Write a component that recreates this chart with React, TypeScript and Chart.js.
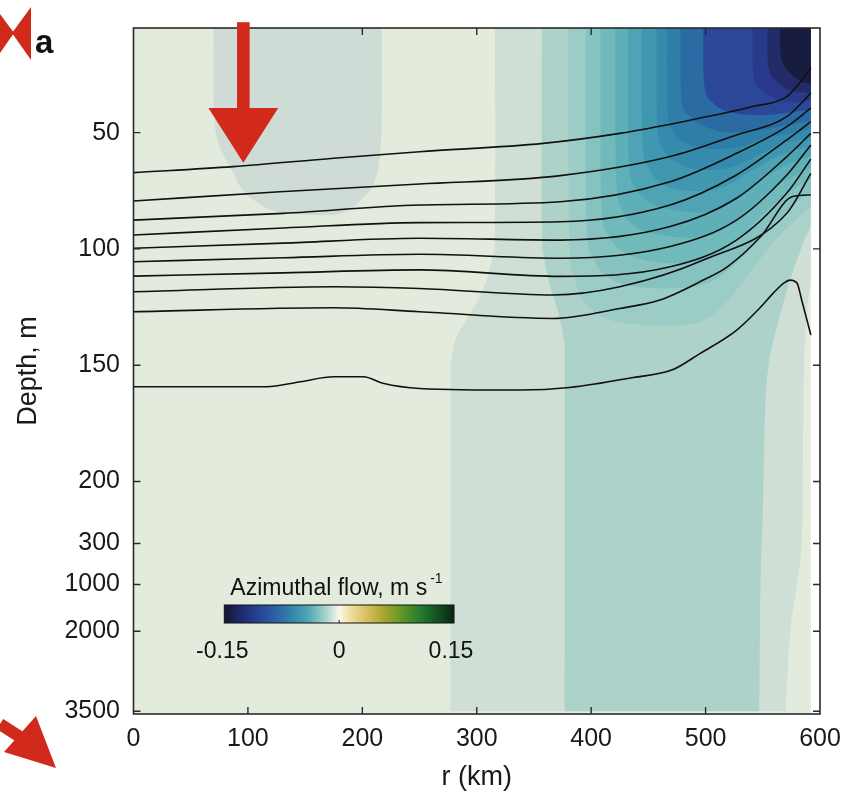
import React, { useEffect, useRef } from 'react';
import { Chart, registerables } from 'chart.js';

Chart.register(...registerables);

const FONT = "'Liberation Sans', Arial, Helvetica, sans-serif";

// ---- axes ----
const xTickValues = [0, 100, 200, 300, 400, 500, 600];
const depthTicks = [50, 100, 150, 200, 300, 1000, 2000, 3500];
const depthTickLabels = ['50', '100', '150', '200', '300', '1000', '2000', '3500'];
// broken depth axis: depth -> axis units (linear to 200 m, compressed below)
const depthBreaks = [200, 300, 1000, 2000, 3500];
const depthBreakAxis = [200, 226.7, 244.3, 264.4, 298.8];

const R_MAX = 592; // last model radius (km)
const D_TOP = 5;

function toAxis(d: number): number {
  if (d <= depthBreaks[0]) return d;
  for (let i = 1; i < depthBreaks.length; i++) {
    if (d <= depthBreaks[i] || i === depthBreaks.length - 1) {
      const t = (d - depthBreaks[i - 1]) / (depthBreaks[i] - depthBreaks[i - 1]);
      return depthBreakAxis[i - 1] + t * (depthBreakAxis[i] - depthBreakAxis[i - 1]);
    }
  }
  return d;
}

// ---- density contour lines (r km, depth m) ----
const lineR1 = [0, 87, 175, 250, 358, 425, 480, 541, 571, 582, 592];
const lineD1 = [67.2, 64.6, 61, 58.2, 54.6, 50.3, 45.3, 38.8, 34.5, 28.7, 22.3];
const lineR2 = [0, 128, 250, 373, 469, 527, 571, 592];
const lineD2 = [79.4, 75.4, 72.1, 68.5, 60.3, 51, 43.1, 33];
const lineR3 = [0, 131, 250, 373, 469, 527, 571, 592];
const lineD3 = [87.6, 84.7, 81.1, 79.7, 71.1, 58.9, 47.4, 39.5];
const lineR4 = [0, 131, 250, 373, 469, 527, 571, 592];
const lineD4 = [94, 91, 88.7, 88.3, 81.1, 68.2, 53.1, 45.3];
const lineR5 = [0, 131, 250, 373, 469, 527, 571, 592];
const lineD5 = [99.7, 97.5, 95.4, 96.2, 90.4, 78.2, 60.3, 50.3];
const lineR6 = [0, 131, 250, 373, 469, 527, 571, 592];
const lineD6 = [105.5, 103.8, 102.3, 104, 99, 87.6, 68.2, 55.3];
const lineR7 = [0, 131, 250, 373, 469, 527, 571, 592];
const lineD7 = [111.7, 110.3, 109, 111.8, 107.7, 96.2, 76, 61.4];
const lineR8 = [0, 175, 250, 367, 425, 498, 571, 592];
const lineD8 = [118.4, 116.3, 117, 119.8, 116.3, 104.8, 84.7, 67.5];
const lineR9 = [0, 175, 250, 367, 425, 460, 498, 519, 548, 576, 592];
const lineD9 = [127, 125.3, 127, 129.9, 125.6, 122, 113.4, 107.7, 94.8, 77.5, 76.8];
const lineR10 = [0, 87, 116, 146, 175, 201, 218, 250, 338, 381, 437, 471, 495, 527, 547, 559, 568, 574, 580, 584, 592];
const lineD10 = [159.3, 159.3, 159.3, 157.1, 155, 155, 157.8, 160, 160.7, 159.6, 155.3, 152, 145, 135, 125.6, 119.1, 114.8, 113.4, 114.8, 122, 137];

const contourR = [lineR1, lineR2, lineR3, lineR4, lineR5, lineR6, lineR7, lineR8, lineR9, lineR10];
const contourD = [lineD1, lineD2, lineD3, lineD4, lineD5, lineD6, lineD7, lineD8, lineD9, lineD10];

// ---- azimuthal-flow filled contour boundaries ([r km, depth m]) ----
const columnEdge = [[70, 5], [70, 35], [72, 50], [77, 58], [87, 67], [93, 73], [105, 79], [125, 84], [160, 85.5], [180, 85], [192, 82], [203, 77], [210, 72], [215, 62], [217, 45], [217, 5]];
const bandAWest = [[316, 5], [316, 90], [313, 105], [305, 118], [293, 129], [282, 138], [278, 148], [277, 165], [277, 3500]];
const bandAEast = [[570, 3500], [574, 2000], [580, 1000], [584, 300], [585, 200], [586, 150], [589, 125], [592, 115]];
const bandBWest = [[357, 5], [357, 90], [359, 104], [364, 116], [371, 127], [376, 139], [377, 155], [377, 3500]];
const bandBEast = [[547, 3500], [548, 1000], [550, 250], [552, 170], [555, 150], [560, 138], [567, 125], [576, 110], [585, 98], [592, 90]];
const lobeC = [[380, 5], [381, 95], [386, 114], [398, 125], [420, 131], [457, 133], [490, 132], [510, 127], [525, 119], [545, 106], [565, 94], [580, 87], [592, 82]];
const lobeD = [[395, 5], [396, 88], [402, 104], [414, 112], [435, 116], [470, 117], [500, 115], [525, 107], [548, 95], [568, 85], [582, 79], [592, 76]];
const lobeE = [[408, 5], [409, 80], [415, 94], [427, 101], [448, 105], [480, 106], [508, 103], [532, 94], [555, 83], [575, 75], [592, 70]];
const lobeF = [[421, 5], [422, 70], [428, 84], [440, 91], [460, 94], [492, 95], [517, 91], [540, 82], [562, 73], [580, 68], [592, 65]];
const lobeG = [[432, 5], [433, 62], [439, 74], [451, 80], [470, 83], [503, 84], [527, 79], [550, 70], [570, 64], [592, 60]];
const lobeH = [[444, 5], [445, 55], [451, 66], [462, 72], [480, 75], [512, 74], [535, 68], [556, 62], [575, 58], [592, 56]];
const lobeI = [[457, 5], [458, 48], [464, 58], [475, 63], [495, 66], [522, 65], [545, 60], [566, 55], [592, 52]];
const lobeJ = [[466, 5], [467, 42], [473, 50], [485, 55], [505, 57], [532, 56], [555, 52], [575, 50], [592, 48.5]];
const lobeK = [[478, 5], [479, 36], [486, 43], [498, 47], [518, 50], [545, 49], [568, 47], [592, 45]];
const lobeL = [[498, 5], [499, 30], [506, 37], [520, 41], [545, 42.5], [570, 41.5], [592, 40]];
const lobeM = [[541, 5], [542, 26], [549, 32], [562, 35.5], [580, 37], [592, 36]];
const lobeN = [[554, 5], [555, 22], [562, 28], [575, 32], [592, 33]];
const lobeO = [[565, 5], [566, 18], [573, 24], [584, 28], [592, 29]];
const topRightCorner = [[R_MAX, D_TOP]];

const baseColor = '#e3ebdd';
const bands = [
  { edges: [columnEdge], color: '#cfdcd6' },
  { edges: [bandAWest, bandAEast, topRightCorner], color: '#cfdfd6' },
  { edges: [bandBWest, bandBEast, topRightCorner], color: '#add2c9' },
  { edges: [lobeC, topRightCorner], color: '#9bccc6' },
  { edges: [lobeD, topRightCorner], color: '#86c3c0' },
  { edges: [lobeE, topRightCorner], color: '#70babc' },
  { edges: [lobeF, topRightCorner], color: '#5eafb8' },
  { edges: [lobeG, topRightCorner], color: '#4ea4b4' },
  { edges: [lobeH, topRightCorner], color: '#4098b0' },
  { edges: [lobeI, topRightCorner], color: '#358bac' },
  { edges: [lobeJ, topRightCorner], color: '#2f7ea8' },
  { edges: [lobeK, topRightCorner], color: '#2b6ba3' },
  { edges: [lobeL, topRightCorner], color: '#2b4799' },
  { edges: [lobeM, topRightCorner], color: '#29398b' },
  { edges: [lobeN, topRightCorner], color: '#232c69' },
  { edges: [lobeO, topRightCorner], color: '#181c3e' },
];

// ---- colour bar ----
const colorbarTicks = [-0.15, 0, 0.15];
const colorbarTickLabels = ['-0.15', '0', '0.15'];
const colorbarStops: [number, string][] = [
  [0, '#141632'], [0.08, '#1f2c74'], [0.17, '#2a4a9c'], [0.27, '#2f78a8'], [0.36, '#4aa5b5'],
  [0.44, '#a3d2ca'], [0.5, '#faf8ec'], [0.54, '#f3e2a8'], [0.62, '#d8bf5e'], [0.7, '#a3a52c'],
  [0.78, '#5a9426'], [0.86, '#23782f'], [0.94, '#124a20'], [1, '#0b2412'],
];

// annotation arrow (r km, depths m)
const arrowR = 96;
const arrowDepths = [2.5, 39.4, 63];
const arrowHalfWidthKm = [5.5, 30.5];

function trace(ctx: CanvasRenderingContext2D, pts: number[][], first: boolean) {
  if (first) ctx.moveTo(pts[0][0], pts[0][1]);
  else ctx.lineTo(pts[0][0], pts[0][1]);
  for (let i = 0; i < pts.length - 1; i++) {
    const pm = pts[i - 1] || pts[i];
    const p0 = pts[i];
    const p1 = pts[i + 1];
    const p2 = pts[i + 2] || p1;
    ctx.bezierCurveTo(
      p0[0] + (p1[0] - pm[0]) / 6, p0[1] + (p1[1] - pm[1]) / 6,
      p1[0] - (p2[0] - p0[0]) / 6, p1[1] - (p2[1] - p0[1]) / 6,
      p1[0], p1[1]
    );
  }
}

const fieldPlugin = {
  id: 'field',
  beforeDatasetsDraw(chart: any) {
    const { ctx, chartArea, scales } = chart;
    const { left, top, bottom } = chartArea;
    const xs = scales.x, ys = scales.y;
    const px = (p: number[]) => [xs.getPixelForValue(p[0]), ys.getPixelForValue(toAxis(p[1]))];
    const xr = xs.getPixelForValue(R_MAX);
    ctx.save();
    ctx.beginPath();
    ctx.rect(left, top, xr - left, bottom - top);
    ctx.clip();
    ctx.fillStyle = baseColor;
    ctx.fillRect(left, top, xr - left, bottom - top);
    for (const band of bands) {
      ctx.beginPath();
      band.edges.forEach((edge, i) => trace(ctx, edge.map(px), i === 0));
      ctx.closePath();
      ctx.fillStyle = band.color;
      ctx.fill();
    }
    ctx.restore();
  },
  afterDatasetsDraw(chart: any) {
    const { ctx, chartArea, scales } = chart;
    const { left, top, right, bottom } = chartArea;
    ctx.save();
    ctx.strokeStyle = '#2a2a2a';
    ctx.lineWidth = 1.6;
    ctx.strokeRect(left, top, right - left, bottom - top);
    ctx.lineWidth = 1.4;
    const tl = 7;
    ctx.beginPath();
    for (const t of scales.x.ticks) {
      if (t.value <= 0 || t.value >= 600) continue;
      const p = scales.x.getPixelForValue(t.value);
      ctx.moveTo(p, bottom); ctx.lineTo(p, bottom - tl);
      ctx.moveTo(p, top); ctx.lineTo(p, top + tl);
    }
    for (const t of scales.y.ticks) {
      const p = scales.y.getPixelForValue(t.value);
      ctx.moveTo(left, p); ctx.lineTo(left + tl, p);
      ctx.moveTo(right, p); ctx.lineTo(right - tl, p);
    }
    ctx.stroke();
    ctx.restore();
  },
  afterDraw(chart: any) {
    const { ctx, chartArea, scales } = chart;
    const { left, top } = chartArea;
    ctx.save();
    // colour bar
    const cbX = left + 90.8, cbY = top + 577, cbW = 229.7, cbH = 18;
    const g = ctx.createLinearGradient(cbX, 0, cbX + cbW, 0);
    colorbarStops.forEach(([o, c]) => g.addColorStop(o, c));
    ctx.fillStyle = g;
    ctx.fillRect(cbX, cbY, cbW, cbH);
    ctx.strokeStyle = '#111';
    ctx.lineWidth = 1;
    ctx.strokeRect(cbX, cbY, cbW, cbH);
    ctx.beginPath();
    ctx.moveTo(cbX + cbW / 2, cbY + cbH); ctx.lineTo(cbX + cbW / 2, cbY + cbH - 3);
    ctx.stroke();
    ctx.fillStyle = '#111';
    ctx.font = `23px ${FONT}`;
    ctx.textBaseline = 'alphabetic';
    ctx.textAlign = 'left';
    const title = 'Azimuthal flow, m s';
    ctx.fillText(title, cbX + 6, cbY - 10);
    const tw = ctx.measureText(title).width;
    ctx.font = `14px ${FONT}`;
    ctx.fillText('-1', cbX + 6 + tw + 3, cbY - 22);
    ctx.font = `23px ${FONT}`;
    ctx.textAlign = 'center';
    colorbarTicks.forEach((v, i) => {
      const xx = cbX + ((v - colorbarTicks[0]) / (colorbarTicks[2] - colorbarTicks[0])) * cbW;
      ctx.fillText(colorbarTickLabels[i], xx - (i === 2 ? 3 : i === 0 ? 2 : 0), cbY + cbH + 35);
    });
    // panel label
    ctx.font = `bold 33px ${FONT}`;
    ctx.textAlign = 'left';
    ctx.fillText('a', 35, 53);
    // red annotation arrows
    ctx.fillStyle = '#d12a1d';
    ctx.strokeStyle = '#d12a1d';
    const ax = scales.x.getPixelForValue(arrowR);
    const sw = scales.x.getPixelForValue(arrowR + arrowHalfWidthKm[0]) - ax;
    const hw = scales.x.getPixelForValue(arrowR + arrowHalfWidthKm[1]) - ax;
    const y0 = scales.y.getPixelForValue(toAxis(arrowDepths[0]));
    const y1 = scales.y.getPixelForValue(toAxis(arrowDepths[1]));
    const y2 = scales.y.getPixelForValue(toAxis(arrowDepths[2]));
    ctx.fillRect(ax - sw, y0, sw * 2, y1 - y0 + 4);
    ctx.beginPath();
    ctx.moveTo(ax - hw, y1); ctx.lineTo(ax + hw, y1); ctx.lineTo(ax, y2); ctx.closePath();
    ctx.fill();
    // corner arrows
    ctx.beginPath();
    ctx.moveTo(0, 14); ctx.lineTo(14, 33); ctx.lineTo(0, 53); ctx.closePath();
    ctx.moveTo(12, 33); ctx.lineTo(31, 7); ctx.lineTo(31, 60); ctx.closePath();
    ctx.fill();
    ctx.beginPath();
    ctx.moveTo(36, 716); ctx.lineTo(56, 768); ctx.lineTo(4, 752); ctx.closePath();
    ctx.fill();
    ctx.lineWidth = 12;
    ctx.beginPath();
    ctx.moveTo(0, 724); ctx.lineTo(28, 742);
    ctx.stroke();
    ctx.restore();
  },
};

export default function App() {
  const ref = useRef<HTMLCanvasElement | null>(null);
  useEffect(() => {
    if (!ref.current) return;
    const datasets = contourR.map((rs, k) => ({
      type: 'line' as const,
      data: rs.map((r, i) => ({ x: r, y: toAxis(contourD[k][i]) })),
      borderColor: '#111',
      borderWidth: 1.6,
      pointRadius: 0,
      fill: false,
      cubicInterpolationMode: 'monotone' as const,
    }));
    const chart = new Chart(ref.current, {
      type: 'line',
      data: { datasets },
      options: {
        animation: false,
        responsive: false,
        maintainAspectRatio: false,
        parsing: false,
        layout: { padding: { top: 28, right: 26, left: 0, bottom: 0 } },
        plugins: { legend: { display: false }, tooltip: { enabled: false } },
        scales: {
          x: {
            type: 'linear',
            min: 0,
            max: 600,
            position: 'bottom',
            grid: { display: false, drawTicks: false },
            border: { display: false },
            afterBuildTicks: (s: any) => { s.ticks = xTickValues.map((v) => ({ value: v })); },
            afterFit: (s: any) => { s.height = 83; s.paddingLeft = 0; s.paddingRight = 0; },
            ticks: { autoSkip: false, maxRotation: 0, padding: 10, color: '#1a1a1a', font: { family: FONT, size: 25 } },
            title: { display: true, text: 'r (km)', color: '#1a1a1a', font: { family: FONT, size: 27 }, padding: { top: 0, bottom: 3 } },
          },
          y: {
            type: 'linear',
            min: 5,
            max: 300,
            reverse: true,
            grid: { display: false, drawTicks: false },
            border: { display: false },
            afterBuildTicks: (s: any) => { s.ticks = depthTicks.map((d) => ({ value: toAxis(d) })); },
            afterFit: (s: any) => { s.width = 133.5; s.paddingTop = 0; s.paddingBottom = 0; },
            ticks: {
              autoSkip: false,
              padding: 13.5,
              color: '#1a1a1a',
              font: { family: FONT, size: 25 },
              callback: (_v: any, i: number) => depthTickLabels[i],
            },
            title: { display: true, text: 'Depth, m', color: '#1a1a1a', font: { family: FONT, size: 27 }, padding: { top: 12, bottom: 0 } },
          },
        },
      } as any,
      plugins: [fieldPlugin],
    });
    return () => chart.destroy();
  }, []);
  return (
    <div style={{ position: 'absolute', left: 0, top: 0, width: 846, height: 797, background: '#fff' }}>
      <canvas ref={ref} width={846} height={797} style={{ display: 'block' }} />
    </div>
  );
}
